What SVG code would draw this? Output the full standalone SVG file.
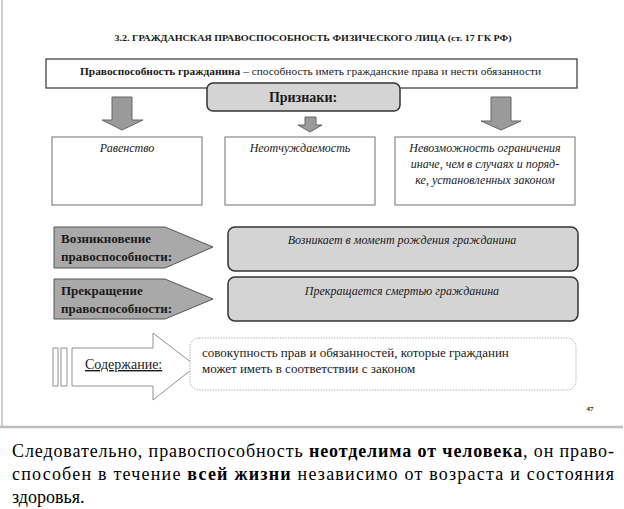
<svg xmlns="http://www.w3.org/2000/svg" width="624" height="509" viewBox="0 0 624 509">
<style>
.box{fill:#fff;stroke:#888;stroke-width:1.2}
.gbox{fill:#d4d4d4;stroke:#333;stroke-width:1.5}
.pent{fill:#a9a9a9;stroke:#555;stroke-width:1}
</style>
<rect width="624" height="509" fill="#fff"/>
<line x1="2" y1="0" x2="2" y2="427" stroke="#cfcfcf" stroke-width="2"/>
<line x1="0" y1="427" x2="623" y2="427" stroke="#bdbdbd" stroke-width="2.5"/>
<text font-family="Liberation Serif" font-weight="bold" fill="#1a1a1a" x="313" y="41" font-size="9" text-anchor="middle" textLength="397" lengthAdjust="spacingAndGlyphs">3.2. ГРАЖДАНСКАЯ ПРАВОСПОСОБНОСТЬ ФИЗИЧЕСКОГО ЛИЦА (ст. 17 ГК РФ)</text>
<text font-family="Liberation Serif" font-weight="bold" fill="#1a1a1a" x="590" y="411" font-size="7" text-anchor="middle">47</text>
<text font-family="Liberation Serif" x="12" y="457" font-size="18" fill="#000" textLength="602" lengthAdjust="spacing">Следовательно, правоспособность <tspan font-weight="bold">неотделима от человека</tspan>, он право-</text>
<text font-family="Liberation Serif" x="12" y="480" font-size="18" fill="#000" textLength="602" lengthAdjust="spacing">способен в течение <tspan font-weight="bold">всей жизни</tspan> независимо от возраста и состояния</text>
<text font-family="Liberation Serif" x="12" y="503" font-size="18" fill="#000">здоровья.</text>
<g id="definition">
<rect x="46" y="59" width="531" height="29" fill="#fff" stroke="#444" stroke-width="1.3"/>
<text font-family="Liberation Serif" fill="#1a1a1a" x="80" y="75" font-size="10.5" textLength="461" lengthAdjust="spacingAndGlyphs"><tspan font-weight="bold">Правоспособность гражданина</tspan> – способность иметь гражданские права и нести обязанности</text>
</g>
<g id="connectors" fill="#9a9a9a" stroke="#666" stroke-width="1">
<polygon points="112,97 132,97 132,120 143,120 122,130 102,120 112,120"/>
<polygon points="305,117 316,117 316,125 322,125 310,132 298,125 305,125"/>
<polygon points="491,97 511,97 511,121 521,121 501,130 481,121 491,121"/>
</g>
<g id="priznaki">
<rect class="gbox" x="207" y="83" width="193" height="28" rx="6"/>
<text font-family="Liberation Serif" font-weight="bold" fill="#1a1a1a" x="303" y="102" font-size="14" text-anchor="middle">Признаки:</text>
</g>
<g id="ravenstvo">
<rect class="box" x="52" y="137" width="150" height="68"/>
<text font-family="Liberation Serif" font-style="italic" fill="#1a1a1a" x="127" y="152" font-size="12" text-anchor="middle">Равенство</text>
</g>
<g id="neotchuzhdaemost">
<rect class="box" x="225" y="137" width="150" height="68"/>
<text font-family="Liberation Serif" font-style="italic" fill="#1a1a1a" x="300" y="152" font-size="12" text-anchor="middle">Неотчуждаемость</text>
</g>
<g id="nevozmozhnost">
<rect class="box" x="395" y="137" width="180" height="68"/>
<text font-family="Liberation Serif" font-style="italic" fill="#1a1a1a" x="485" y="152" font-size="12" text-anchor="middle">Невозможность ограничения</text>
<text font-family="Liberation Serif" font-style="italic" fill="#1a1a1a" x="485" y="168" font-size="12" text-anchor="middle">иначе, чем в случаях и поряд-</text>
<text font-family="Liberation Serif" font-style="italic" fill="#1a1a1a" x="485" y="184" font-size="12" text-anchor="middle">ке, установленных законом</text>
</g>
<g id="vozniknovenie">
<polygon class="pent" points="54,227 165,227 213,247 165,268 54,268"/>
<text font-family="Liberation Serif" font-weight="bold" fill="#1a1a1a" x="61" y="243" font-size="13">Возникновение</text>
<text font-family="Liberation Serif" font-weight="bold" fill="#1a1a1a" x="61" y="261" font-size="13">правоспособности:</text>
</g>
<g id="vozniknovenie-text">
<rect class="gbox" x="228" y="227" width="350" height="44" rx="7"/>
<text font-family="Liberation Serif" font-style="italic" fill="#1a1a1a" x="402" y="244" font-size="12" text-anchor="middle">Возникает в момент рождения гражданина</text>
</g>
<g id="prekrashchenie">
<polygon class="pent" points="54,279 165,279 213,299 165,319 54,319"/>
<text font-family="Liberation Serif" font-weight="bold" fill="#1a1a1a" x="61" y="295" font-size="13">Прекращение</text>
<text font-family="Liberation Serif" font-weight="bold" fill="#1a1a1a" x="61" y="313" font-size="13">правоспособности:</text>
</g>
<g id="prekrashchenie-text">
<rect class="gbox" x="228" y="277" width="350" height="44" rx="7"/>
<text font-family="Liberation Serif" font-style="italic" fill="#1a1a1a" x="402" y="295" font-size="12" text-anchor="middle">Прекращается смертью гражданина</text>
</g>
<g id="soderzhanie">
<rect x="53" y="348" width="5" height="38" fill="#fff" stroke="#777" stroke-width="0.8"/>
<rect x="61" y="348" width="6" height="38" fill="#fff" stroke="#777" stroke-width="0.8"/>
<polygon points="72,348 153,348 153,333 196,366 153,400 153,386 72,386" fill="#fff" stroke="#777" stroke-width="0.8"/>
<text font-family="Liberation Serif" fill="#1a1a1a" x="85" y="369" font-size="14" text-decoration="underline">Содержание:</text>
</g>
<g id="soderzhanie-text">
<rect x="190" y="338" width="386" height="52" rx="9" fill="#fff" stroke="#aaa" stroke-width="0.9" stroke-dasharray="1.5,1.2"/>
<text font-family="Liberation Serif" fill="#1a1a1a" x="202" y="357" font-size="13">совокупность прав и обязанностей, которые гражданин</text>
<text font-family="Liberation Serif" fill="#1a1a1a" x="202" y="373" font-size="13">может иметь в соответствии с законом</text>
</g>
</svg>
